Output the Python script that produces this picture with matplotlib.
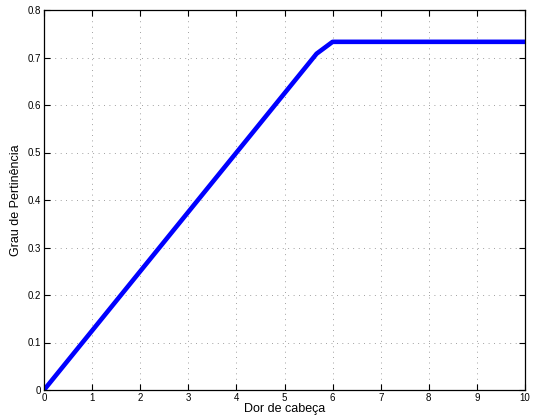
import matplotlib.pyplot as plt

# membership curve for "Dor de cabeça"
x_vals = [0, 5.667, 6, 10]
y_vals = [0, 0.708, 0.733, 0.733]
x_ticks = list(range(0, 11))
y_ticks = [0, 0.1, 0.2, 0.3, 0.4, 0.5, 0.6, 0.7, 0.8]

plt.rcParams['font.family'] = ['Liberation Sans', 'DejaVu Sans']

fig = plt.figure(figsize=(5.33, 4.18), dpi=100)
ax = fig.add_axes([44/533, 28/418, 481/533, 380/418])

ax.plot(x_vals, y_vals, color='#0000ff', linewidth=3.3, solid_capstyle='butt')

ax.set_xlim(0, 10)
ax.set_ylim(0, 0.8)
ax.set_xticks(x_ticks)
ax.set_yticks(y_ticks)
ax.set_xticklabels([str(t) for t in x_ticks])
ax.set_yticklabels(['0', '0.1', '0.2', '0.3', '0.4', '0.5', '0.6', '0.7', '0.8'])
ax.tick_params(direction='in', length=4, labelsize=7, width=0.8, pad=2,
               top=True, right=True)
ax.grid(True, linestyle=(0, (1, 5.5)), color='#808080', linewidth=0.6)
for s in ax.spines.values():
    s.set_linewidth(0.9)

ax.set_xlabel('Dor de cabeça', fontsize=9, labelpad=0)
ax.set_ylabel('Grau de Pertinência', fontsize=9, labelpad=4)

fig.savefig('out.png', dpi=100)
